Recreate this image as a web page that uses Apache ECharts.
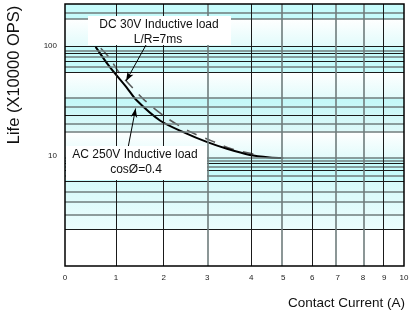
<!DOCTYPE html>
<html>
<head>
<meta charset="utf-8">
<script src="https://cdn.jsdelivr.net/npm/echarts@6/dist/echarts.min.js"></script>
<style>html,body{margin:0;padding:0;background:#fff}#c{width:413px;height:324px}</style>
</head>
<body>
<div id="c"></div>
<script>
// ---- data ----
const xTickLabels = [0, 1, 2, 3, 4, 5, 6, 7, 8, 9, 10];
// non-linear current scale of the original sheet (fraction of axis length for each tick)
const xAxisWarp = [0, 0.1506, 0.2914, 0.4193, 0.5492, 0.6436, 0.7293, 0.8043, 0.8790, 0.9418, 1];
const yTickLabels = [10, 100];

const currentAC = [0.6, 0.88, 1.22, 1.43, 1.92, 2.49, 2.99, 3.45, 3.97, 4.58, 5.0];
const lifeAC    = [98, 64, 42, 32, 21, 16.2, 13.4, 11.6, 10.2, 9.7, 9.6];
const currentDC = [0.7, 0.86, 1.08, 1.36, 1.6, 2.08, 2.62, 3.1, 3.53, 4.0, 4.35];
const lifeDC    = [95, 79, 56, 41, 32, 22, 16.5, 13.7, 11.7, 10.5, 10.1];

const hLineValues = [200, 175, 100, 90, 85, 79, 72, 65, 58, 33.5, 28, 23.2, 19.8, 16.6, 9.6, 9.06, 8.58, 8.0, 7.35, 6.62, 5.84, 4.74, 3.84, 2.91, 2.16];
const hLineTone   = ['g','g','d','g','d','g','d','g','d','g','g','d','g','g','g','g','d','g','d','g','d','g','g','g','d'];
const vLineTicks  = [1, 2, 3, 4, 5, 6, 7, 8, 9];
const vLineTone   = ['d','d','g','d','g','d','g','g','d'];
const bandRanges  = [[175, 240], [100, 175], [58, 100], [33.5, 58], [16.6, 33.5], [9.6, 16.6], [5.84, 9.6], [2.16, 5.84]];
const bandKind    = ['s', 'f', 's', 'f', 's2', 'f', 's', 'l'];

// ---- helpers ----
function warp(c) {
  const i = Math.max(0, Math.min(Math.floor(c), 9));
  const f = c - i;
  return xAxisWarp[i] + f * (xAxisWarp[i + 1] - xAxisWarp[i]);
}
function pairs(xs, ys) { return xs.map((x, i) => [warp(x), ys[i]]); }

const DARK = {color: '#1a1a1a', width: 1, type: 'solid'};
const GRAY = {color: '#6f7c7c', width: 1.6, type: 'solid'};

function grad(top, bottom) {
  return {type: 'linear', x: 0, y: 0, x2: 0, y2: 1, colorStops: [{offset: 0, color: top}, {offset: 1, color: bottom}]};
}
const bandFill = {
  s: '#c6fbfb',
  s2: grad('#c2f8f8', '#def9f9'),
  f: grad('#ffffff', '#e2fbfb'),
  l: grad('#d6fafa', '#ecfdfd')
};

const chart = echarts.init(document.getElementById('c'), null, {renderer: 'canvas'});
const FONT = 'Liberation Sans, Arial, sans-serif';

function box(x, y, w, h) {
  return {type: 'rect', z: 20, silent: true, shape: {x: x, y: y, width: w, height: h}, style: {fill: '#ffffff'}};
}
function label(text, x, y) {
  return {type: 'text', z: 21, silent: true, x: x, y: y,
          style: {text: text, font: '12px ' + FONT, fill: '#111', align: 'center', verticalAlign: 'middle'}};
}

chart.setOption({
  animation: false,
  backgroundColor: '#fff',
  grid: {left: 65, right: 9, top: 4, bottom: 58, show: true, z: 10,
         backgroundColor: 'transparent', borderColor: '#000', borderWidth: 1.5},
  xAxis: {
    type: 'value', min: 0, max: 1,
    axisLine: {show: false}, axisTick: {show: false}, splitLine: {show: false},
    axisLabel: {
      customValues: xTickLabels.map(warp),
      formatter: v => { const k = xTickLabels.findIndex(t => Math.abs(warp(t) - v) < 1e-6); return k >= 0 ? String(xTickLabels[k]) : ''; },
      fontSize: 8, color: '#222', fontFamily: FONT, margin: 8, hideOverlap: false
    }
  },
  yAxis: {
    type: 'log', logBase: 10, min: 1, max: 240,
    axisLine: {show: false}, axisTick: {show: false}, splitLine: {show: false},
    axisLabel: {
      customValues: yTickLabels,
      fontSize: 8, color: '#222', fontFamily: FONT, margin: 8, padding: [0, 0, 5, 0]
    }
  },
  series: [
    {
      name: 'grid', type: 'line', z: 1, silent: true, data: [[0, 1]],
      showSymbol: false, lineStyle: {opacity: 0},
      markArea: {
        silent: true,
        data: bandRanges.map((r, i) => [
          {yAxis: r[1], itemStyle: {color: bandFill[bandKind[i]]}},
          {yAxis: r[0]}
        ])
      },
      markLine: {
        silent: true, symbol: ['none', 'none'], label: {show: false}, animation: false,
        emphasis: {disabled: true},
        data: hLineValues.map((v, i) => ({yAxis: v, lineStyle: hLineTone[i] === 'd' ? DARK : GRAY}))
          .concat(vLineTicks.map((t, i) => ({xAxis: warp(t), lineStyle: vLineTone[i] === 'd' ? DARK : GRAY})))
      }
    },
    {
      name: 'DC 30V', type: 'line', z: 3, smooth: 0.3, showSymbol: false,
      data: pairs(currentDC, lifeDC),
      lineStyle: {color: '#5a5a5a', width: 1.6, type: [11, 9]}
    },
    {
      name: 'AC 250V', type: 'line', z: 4, smooth: 0.3, showSymbol: false,
      data: pairs(currentAC, lifeAC),
      lineStyle: {color: '#000', width: 2}
    },
    {
      name: 'arrows', type: 'line', z: 6, silent: true, data: [[0, 1]],
      showSymbol: false, lineStyle: {opacity: 0},
      markLine: {
        silent: true, symbol: ['none', 'arrow'], symbolSize: [5, 9], label: {show: false},
        emphasis: {disabled: true},
        lineStyle: {color: '#000', width: 1, type: 'solid'},
        data: [
          [{coord: [warp(1.64), 104]}, {coord: [warp(1.21), 48]}],
          [{coord: [warp(1.25), 11.8]}, {coord: [warp(1.41), 27]}]
        ]
      }
    }
  ],
  graphic: [
    box(88, 16, 143, 29),
    label('DC 30V Inductive load', 159, 25),
    label('L/R=7ms', 158, 40),
    box(66, 146, 141, 34),
    label('AC 250V Inductive load', 135, 155),
    label('cosØ=0.4', 136, 170),
    {type: 'text', x: 14, y: 75, rotation: Math.PI / 2, z: 20,
     style: {text: 'Life (X10000 OPS)', font: '16.5px ' + FONT, fill: '#111', align: 'center', verticalAlign: 'middle'}},
    {type: 'text', x: 405, y: 303, z: 20,
     style: {text: 'Contact Current (A)', font: '13.5px ' + FONT, fill: '#111', align: 'right', verticalAlign: 'middle'}}
  ]
});
</script>
</body>
</html>
